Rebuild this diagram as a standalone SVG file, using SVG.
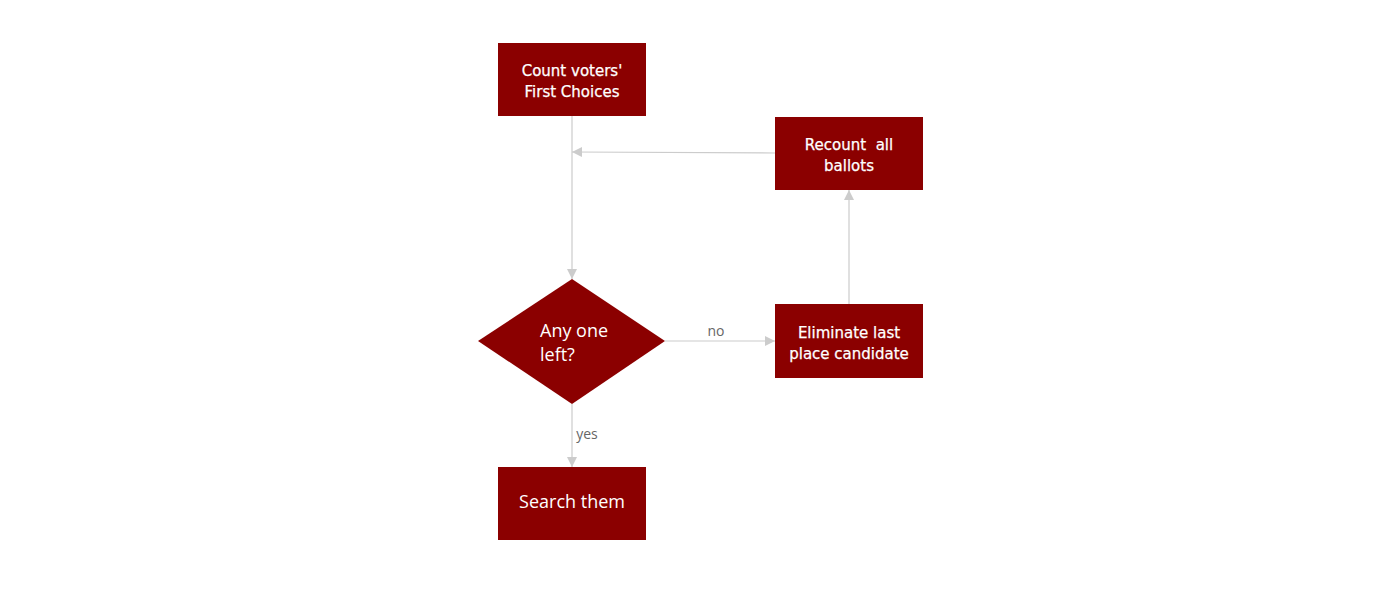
<svg xmlns="http://www.w3.org/2000/svg" width="1400" height="600" viewBox="0 0 1400 600">
<style>
.node{fill:#8b0000;}
.t{fill:#ffffff;font-family:"DejaVu Sans","Liberation Sans",sans-serif;font-size:15px;text-anchor:middle;stroke:#ffffff;stroke-width:0.25;}
.t2{fill:#ffffff;font-family:"Open Sans","Liberation Sans",sans-serif;font-size:18px;}
.edge{stroke:#cccccc;stroke-width:1.2;fill:none;marker-end:url(#arr);}
.lbl{fill:#666666;font-family:"Open Sans","Liberation Sans",sans-serif;font-size:14px;text-anchor:middle;}
</style>
<defs>
<marker id="arr" viewBox="0 0 10 10" refX="10" refY="5" markerWidth="11" markerHeight="10" markerUnits="userSpaceOnUse" orient="auto">
<path d="M0,0 L10,5 L0,10 Z" fill="#cccccc"/>
</marker>
</defs>
<rect width="1400" height="600" fill="#ffffff"/>
<g id="connectors">
<path class="edge" d="M572,116 L572,279"/>
<path class="edge" d="M775,153 L572,152"/>
<path class="edge" d="M665,341 L775,341"/>
<text class="lbl" x="716" y="336">no</text>
<path class="edge" d="M849,304 L849,190"/>
<path class="edge" d="M572,404 L572,467"/>
<text class="lbl" x="587" y="439">yes</text>
</g>
<g id="count">
<rect class="node" x="498" y="43" width="148" height="73"/>
<text class="t" x="572" y="76">Count voters'</text>
<text class="t" x="572" y="97">First Choices</text>
</g>
<g id="recount">
<rect class="node" x="775" y="117" width="148" height="73"/>
<text class="t" x="849" y="150" xml:space="preserve">Recount  all</text>
<text class="t" x="849" y="171">ballots</text>
</g>
<g id="anyone">
<polygon class="node" points="572,279 665,341 572,404 478,341"/>
<text class="t2" x="540" y="337">Any one</text>
<text class="t2" x="540" y="361">left?</text>
</g>
<g id="eliminate">
<rect class="node" x="775" y="304" width="148" height="74"/>
<text class="t" x="849" y="338">Eliminate last</text>
<text class="t" x="849" y="359">place candidate</text>
</g>
<g id="search">
<rect class="node" x="498" y="467" width="148" height="73"/>
<text class="t" x="572" y="508" style="font-family:'Open Sans','Liberation Sans',sans-serif;font-size:18px;stroke:none">Search them</text>
</g>
</svg>
